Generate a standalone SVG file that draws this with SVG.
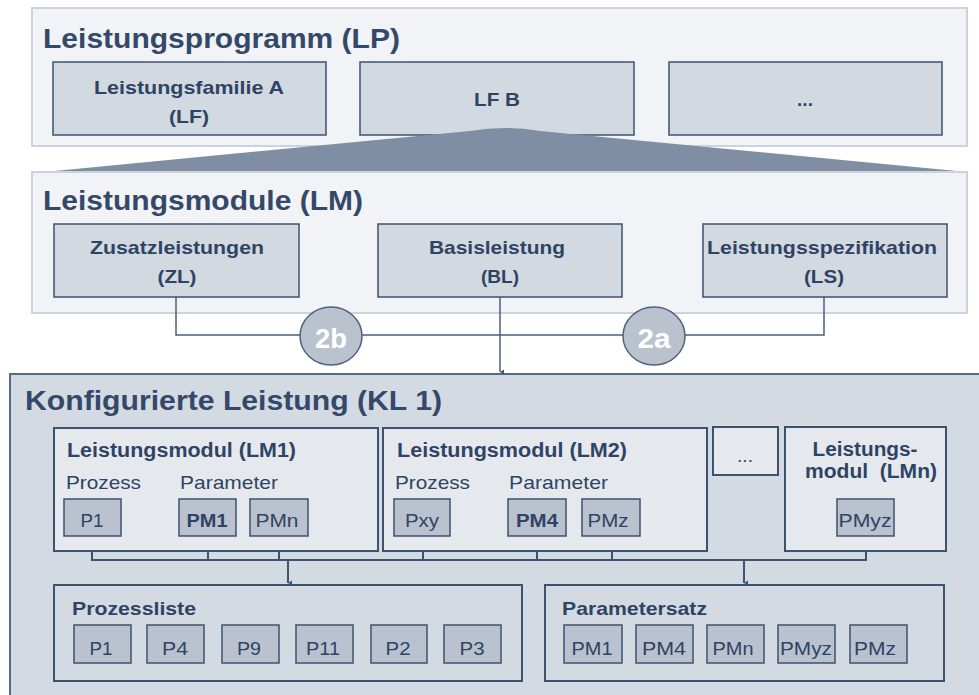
<svg xmlns="http://www.w3.org/2000/svg" width="979" height="695" viewBox="0 0 979 695">
<defs>
<style>
text{font-family:"Liberation Sans",Arial,sans-serif;fill:#2f4464}
.t{font-size:28px;font-weight:bold;fill:#34496a}
.b{font-size:19px;font-weight:bold}
.h{font-size:20px;font-weight:bold}
.r{font-size:19px}
.s{font-size:19px}
.sb{font-size:19px;font-weight:bold}
.c{text-anchor:middle}
.panel{fill:#f1f3f6;stroke:#cbd3dc;stroke-width:2}
.box{fill:#d3d9e0;stroke:#3d5270;stroke-width:1.5}
.lm{fill:#e5e9ee;stroke:#3d5270;stroke-width:2}
.sm{fill:#b9c2ce;stroke:#3d5270;stroke-width:1.5}
.grp{fill:#d4dae2;stroke:#3d5270;stroke-width:2}
.ln{fill:none;stroke:#4a5f7c;stroke-width:1.5}
.ln2{fill:none;stroke:#3d5270;stroke-width:2}
.circ{fill:#b9c2cd;stroke:#4d6280;stroke-width:1.5}
.num{font-size:27px;font-weight:bold;fill:#ffffff;text-anchor:middle}
</style>
<marker id="arr" markerWidth="6" markerHeight="6" refX="3" refY="5" orient="auto-start-reverse" markerUnits="userSpaceOnUse" viewBox="0 0 6 6">
<path d="M0.5,1 L3,5 L5.5,1 Z" fill="#3d5270"/>
</marker>
</defs>
<rect width="979" height="695" fill="#ffffff"/>

<g id="LP">
<rect class="panel" x="32" y="8" width="935" height="138"/>
<text class="t" x="43" y="48" textLength="357" lengthAdjust="spacingAndGlyphs">Leistungsprogramm (LP)</text>
</g>
<g id="LF-A">
<rect class="box" x="53" y="62" width="273" height="73"/>
<text class="b c" x="189" y="94" textLength="190" lengthAdjust="spacingAndGlyphs">Leistungsfamilie A</text>
<text class="b c" x="189" y="123" textLength="40" lengthAdjust="spacingAndGlyphs">(LF)</text>
</g>
<g id="LF-B">
<rect class="box" x="360" y="62" width="274" height="73"/>
<text class="b c" x="497" y="106" textLength="46" lengthAdjust="spacingAndGlyphs">LF B</text>
</g>
<g id="LF-more">
<rect class="box" x="669" y="62" width="273" height="73"/>
<text class="b c" x="805" y="106">...</text>
</g>
<g id="funnel">
<path d="M44 172 L470 131 Q505 125 540 131 L967 172 Z" fill="#7f8ea3"/>
</g>

<g id="LM">
<rect class="panel" x="32" y="172" width="935" height="141"/>
<text class="t" x="43" y="210" textLength="320" lengthAdjust="spacingAndGlyphs">Leistungsmodule (LM)</text>
</g>
<g id="ZL">
<rect class="box" x="54" y="224" width="245" height="73"/>
<text class="b c" x="177" y="254" textLength="174" lengthAdjust="spacingAndGlyphs">Zusatzleistungen</text>
<text class="b c" x="177" y="283" textLength="39" lengthAdjust="spacingAndGlyphs">(ZL)</text>
</g>
<g id="BL">
<rect class="box" x="378" y="224" width="244" height="73"/>
<text class="b c" x="497" y="254" textLength="136" lengthAdjust="spacingAndGlyphs">Basisleistung</text>
<text class="b c" x="500" y="283" textLength="38" lengthAdjust="spacingAndGlyphs">(BL)</text>
</g>
<g id="LS">
<rect class="box" x="703" y="224" width="244" height="73"/>
<text class="b c" x="822" y="254" textLength="230" lengthAdjust="spacingAndGlyphs">Leistungsspezifikation</text>
<text class="b c" x="824" y="283" textLength="40" lengthAdjust="spacingAndGlyphs">(LS)</text>
</g>

<g id="KL">
<rect x="10" y="374" width="975" height="324" fill="#d4dae2" stroke="#56698a" stroke-width="2"/>
<text class="t" x="25" y="410" textLength="417" lengthAdjust="spacingAndGlyphs">Konfigurierte Leistung (KL 1)</text>
</g>

<g id="connectors">
<path class="ln" d="M176 297 V335 H824 V297"/>
<path class="ln" d="M500 297 V372" marker-end="url(#arr)"/>
<path class="ln2" d="M92 536 V560 H866 V536 M208 536 V560 M279 536 V560 M423 536 V560 M537 536 V560 M612 536 V560"/>
<path class="ln2" d="M288 560 V583" marker-end="url(#arr)"/>
<path class="ln2" d="M744 560 V583" marker-end="url(#arr)"/>
</g>

<g id="c2b">
<ellipse class="circ" cx="331" cy="336" rx="31" ry="29"/>
<text class="num" x="331" y="348" textLength="32" lengthAdjust="spacingAndGlyphs">2b</text>
</g>
<g id="c2a">
<ellipse class="circ" cx="654" cy="336" rx="31" ry="29"/>
<text class="num" x="654" y="348" textLength="33" lengthAdjust="spacingAndGlyphs">2a</text>
</g>

<g id="LM1">
<rect class="lm" x="54" y="428" width="324" height="123"/>
<text class="h" x="67" y="457" textLength="229" lengthAdjust="spacingAndGlyphs">Leistungsmodul (LM1)</text>
<text class="r" x="66" y="489" textLength="75" lengthAdjust="spacingAndGlyphs">Prozess</text>
<text class="r" x="180" y="489" textLength="98" lengthAdjust="spacingAndGlyphs">Parameter</text>
<rect class="sm" x="64" y="499" width="57" height="37"/>
<text class="s c" x="92" y="527" textLength="23" lengthAdjust="spacingAndGlyphs">P1</text>
<rect class="sm" x="179" y="499" width="57" height="37"/>
<text class="sb c" x="207" y="527" textLength="41" lengthAdjust="spacingAndGlyphs">PM1</text>
<rect class="sm" x="250" y="499" width="58" height="37"/>
<text class="s c" x="277" y="527" textLength="43" lengthAdjust="spacingAndGlyphs">PMn</text>
</g>
<g id="LM2">
<rect class="lm" x="383" y="428" width="324" height="123"/>
<text class="h" x="397" y="457" textLength="230" lengthAdjust="spacingAndGlyphs">Leistungsmodul (LM2)</text>
<text class="r" x="395" y="489" textLength="75" lengthAdjust="spacingAndGlyphs">Prozess</text>
<text class="r" x="509" y="489" textLength="99" lengthAdjust="spacingAndGlyphs">Parameter</text>
<rect class="sm" x="394" y="499" width="56" height="37"/>
<text class="s c" x="422" y="527" textLength="34" lengthAdjust="spacingAndGlyphs">Pxy</text>
<rect class="sm" x="508" y="499" width="58" height="37"/>
<text class="sb c" x="537" y="527" textLength="42" lengthAdjust="spacingAndGlyphs">PM4</text>
<rect class="sm" x="582" y="499" width="58" height="37"/>
<text class="s c" x="608" y="527" textLength="41" lengthAdjust="spacingAndGlyphs">PMz</text>
</g>
<g id="LM-more">
<rect class="lm" x="713" y="427" width="65" height="48"/>
<text class="r c" x="745" y="462">...</text>
</g>
<g id="LMn">
<rect class="lm" x="785" y="427" width="161" height="124"/>
<text class="h c" x="865" y="456" textLength="105" lengthAdjust="spacingAndGlyphs">Leistungs-</text>
<text class="h c" x="871" y="478" textLength="132" lengthAdjust="spacingAndGlyphs" xml:space="preserve">modul  (LMn)</text>
<rect class="sm" x="837" y="499" width="57" height="37"/>
<text class="s c" x="865" y="527" textLength="53" lengthAdjust="spacingAndGlyphs">PMyz</text>
</g>

<g id="Prozessliste">
<rect class="grp" x="54" y="585" width="468" height="96"/>
<text class="b" x="72" y="615" textLength="124" lengthAdjust="spacingAndGlyphs">Prozessliste</text>
<rect class="sm" x="74" y="625" width="57" height="38"/>
<text class="s c" x="101" y="655" textLength="23" lengthAdjust="spacingAndGlyphs">P1</text>
<rect class="sm" x="147" y="625" width="57" height="38"/>
<text class="s c" x="175" y="655" textLength="26" lengthAdjust="spacingAndGlyphs">P4</text>
<rect class="sm" x="222" y="625" width="57" height="38"/>
<text class="s c" x="249" y="655" textLength="24" lengthAdjust="spacingAndGlyphs">P9</text>
<rect class="sm" x="296" y="625" width="57" height="38"/>
<text class="s c" x="323" y="655" textLength="34" lengthAdjust="spacingAndGlyphs">P11</text>
<rect class="sm" x="371" y="625" width="56" height="38"/>
<text class="s c" x="398" y="655" textLength="25" lengthAdjust="spacingAndGlyphs">P2</text>
<rect class="sm" x="444" y="625" width="57" height="38"/>
<text class="s c" x="472" y="655" textLength="25" lengthAdjust="spacingAndGlyphs">P3</text>
</g>
<g id="Parametersatz">
<rect class="grp" x="545" y="585" width="399" height="96"/>
<text class="b" x="562" y="615" textLength="145" lengthAdjust="spacingAndGlyphs">Parametersatz</text>
<rect class="sm" x="564" y="625" width="58" height="38"/>
<text class="s c" x="592" y="655" textLength="41" lengthAdjust="spacingAndGlyphs">PM1</text>
<rect class="sm" x="636" y="625" width="57" height="38"/>
<text class="s c" x="664" y="655" textLength="44" lengthAdjust="spacingAndGlyphs">PM4</text>
<rect class="sm" x="707" y="625" width="57" height="38"/>
<text class="s c" x="733" y="655" textLength="41" lengthAdjust="spacingAndGlyphs">PMn</text>
<rect class="sm" x="778" y="625" width="57" height="38"/>
<text class="s c" x="806" y="655" textLength="52" lengthAdjust="spacingAndGlyphs">PMyz</text>
<rect class="sm" x="850" y="625" width="57" height="38"/>
<text class="s c" x="875" y="655" textLength="42" lengthAdjust="spacingAndGlyphs">PMz</text>
</g>
</svg>
